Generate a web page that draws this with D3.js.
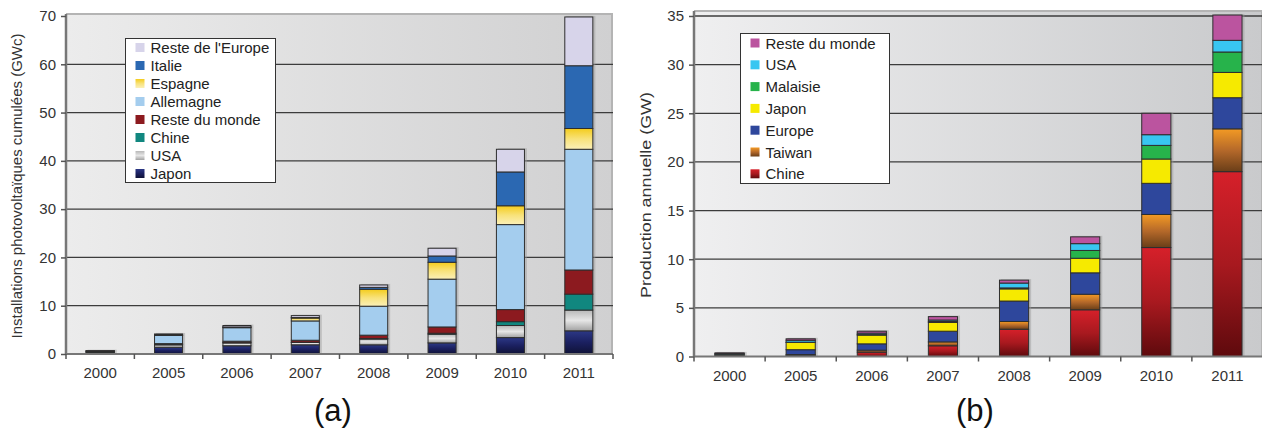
<!DOCTYPE html>
<html>
<head>
<meta charset="utf-8">
<script src="https://cdn.jsdelivr.net/npm/d3@7"></script>
<style>
  body { margin: 0; background: #fff; }
  svg { font-family: "Liberation Sans", Arial, sans-serif; }
</style>
</head>
<body>
<svg id="fig" width="1262" height="436"></svg>
<script>
// years shared by both panels
const years = ["2000", "2005", "2006", "2007", "2008", "2009", "2010", "2011"];

// (a) cumulated installations, GWc (bottom -> top of the stack)
const seriesA = ["Japon", "USA", "Chine", "Reste du monde", "Allemagne", "Espagne", "Italie", "Reste de l'Europe"];
const japonA     = [0.30, 1.4, 1.7, 1.9, 1.9, 2.3, 3.4, 4.8];
const usaA       = [0.10, 0.5, 0.6, 0.5, 1.2, 1.8, 2.5, 4.3];
const chineA     = [0.02, 0.05, 0.05, 0.05, 0.1, 0.2, 0.8, 3.3];
const rdmA       = [0.10, 0.2, 0.3, 0.4, 0.7, 1.3, 2.5, 5.0];
const allemagneA = [0.10, 1.7, 2.8, 4.0, 6.0, 9.9, 17.6, 25.0];
const espagneA   = [0.01, 0.05, 0.1, 0.6, 3.5, 3.5, 3.9, 4.3];
const italieA    = [0.01, 0.05, 0.05, 0.1, 0.4, 1.3, 7.0, 13.0];
const rdeA       = [0.05, 0.2, 0.3, 0.4, 0.5, 1.6, 4.7, 10.1];
const ticksA = [0, 10, 20, 30, 40, 50, 60, 70];

// (b) annual production, GW (bottom -> top of the stack)
const seriesB = ["Chine", "Taiwan", "Europe", "Japon", "Malaisie", "USA", "Reste du monde"];
const chineB    = [0.02, 0.1, 0.45, 1.1, 2.8, 4.8, 11.2, 19.0];
const taiwanB   = [0.01, 0.1, 0.2, 0.4, 0.8, 1.6, 3.4, 4.4];
const europeB   = [0.07, 0.5, 0.65, 1.1, 2.1, 2.2, 3.2, 3.2];
const japonB    = [0.13, 0.75, 0.9, 0.9, 1.25, 1.5, 2.5, 2.6];
const malaisieB = [0.01, 0.02, 0.05, 0.1, 0.1, 0.8, 1.4, 2.1];
const usaB      = [0.08, 0.2, 0.15, 0.15, 0.5, 0.7, 1.1, 1.2];
const rdmB      = [0.05, 0.15, 0.2, 0.35, 0.3, 0.7, 2.2, 2.6];
const ticksB = [0, 5, 10, 15, 20, 25, 30, 35];

const svg = d3.select("#fig");
const defs = svg.append("defs");

// vertical gradient helper, stops from top to bottom
function vGrad(id, stops) {
  const g = defs.append("linearGradient").attr("id", id)
    .attr("x1", 0).attr("y1", 0).attr("x2", 0).attr("y2", 1);
  stops.forEach((c, i) => g.append("stop")
    .attr("offset", i / (stops.length - 1)).attr("stop-color", c));
  return "url(#" + id + ")";
}
function hGrad(id, c0, c1) {
  const g = defs.append("linearGradient").attr("id", id)
    .attr("x1", 0).attr("y1", 0).attr("x2", 1).attr("y2", 0);
  g.append("stop").attr("offset", 0).attr("stop-color", c0);
  g.append("stop").attr("offset", 1).attr("stop-color", c1);
  return "url(#" + id + ")";
}

const colorsA = [
  vGrad("gJap", ["#2c3886", "#1b2060", "#0f1236"]),
  vGrad("gUsa", ["#b8b8b8", "#e6e6e6", "#a2a2a2"]),
  "#11877f",
  "#8c1a1f",
  "#a4cdee",
  vGrad("gEsp", ["#f4cc1c", "#f8e27a", "#fbf0b8"]),
  "#2b68b2",
  "#d7d4ea"
];
const colorsB = [
  vGrad("gChi", ["#d6202a", "#a8191f", "#5e0a0d"]),
  vGrad("gTai", ["#f39a24", "#b5692a", "#6a3e18"]),
  "#2e479c",
  "#f6ea00",
  "#27b34b",
  "#38c6f1",
  "#bb549f"
];

function drawPanel(o) {
  const g = svg.append("g");
  const x = d3.scaleBand().domain(years).range([o.x0, o.x1]).paddingInner(0.59).paddingOuter(0.295);
  const xb = d3.scaleBand().domain(years).range([o.x0, o.x1]);
  const y = d3.scaleLinear().domain([0, o.max]).range([o.yBase, o.yTop]);

  // plot background
  g.append("rect").attr("x", o.x0).attr("y", o.frameTop)
    .attr("width", o.x1 - o.x0).attr("height", o.yBase - o.frameTop)
    .attr("fill", hGrad(o.id + "bg", o.bg0, o.bg1));
  g.append("line").attr("x1", o.x0).attr("x2", o.x1)
    .attr("y1", o.frameTop).attr("y2", o.frameTop)
    .attr("stroke", "#b4b4b4").attr("stroke-width", 2);
  g.append("line").attr("x1", o.x1 - 1).attr("x2", o.x1 - 1)
    .attr("y1", o.frameTop).attr("y2", o.yBase)
    .attr("stroke", "#b4b4b4").attr("stroke-width", 2);

  // grid
  g.selectAll(".grid").data(o.ticks.filter(t => t > 0 && y(t) > o.frameTop + 2)).enter()
    .append("line")
    .attr("x1", o.x0).attr("x2", o.x1)
    .attr("y1", d => y(d)).attr("y2", d => y(d))
    .attr("stroke", "#3c3c3c").attr("stroke-width", 1.3);

  // stacked bars
  const table = years.map((yr, i) => {
    const row = { year: yr };
    o.keys.forEach((k, j) => row[k] = o.values[j][i]);
    return row;
  });
  const stacked = d3.stack().keys(o.keys)(table);

  // faint shadow behind the bars
  g.append("g").selectAll("rect").data(table).enter().append("rect")
    .attr("x", d => x(d.year) + 1.5)
    .attr("y", d => y(d3.sum(o.keys, k => d[k])) - 1)
    .attr("width", x.bandwidth() + 1)
    .attr("height", d => o.yBase - y(d3.sum(o.keys, k => d[k])) + 1)
    .attr("fill", "#999").attr("opacity", 0.45);

  const layers = g.selectAll(".layer").data(stacked).enter().append("g")
    .attr("class", "layer")
    .attr("fill", (d, i) => o.colors[i]);
  layers.selectAll("rect").data(d => d).enter().append("rect")
    .attr("x", d => x(d.data.year))
    .attr("y", d => y(d[1]))
    .attr("width", x.bandwidth())
    .attr("height", d => y(d[0]) - y(d[1]))
    .attr("stroke", "#2e2e2e").attr("stroke-width", 1);

  // y axis
  const ya = g.append("g").attr("transform", `translate(${o.x0},0)`)
    .call(d3.axisLeft(y).tickValues(o.ticks).tickSize(5).tickPadding(5));
  ya.select(".domain").attr("stroke", "#777").attr("stroke-width", 2.5)
    .attr("d", `M0,${o.yBase}V${o.frameTop}`);
  ya.selectAll(".tick line").attr("stroke", "#555").attr("stroke-width", 1.5);
  ya.selectAll("text").attr("font-size", 15).attr("fill", "#333")
    .attr("font-family", "Liberation Sans, Arial, sans-serif");

  // x axis: ticks between bands
  g.append("line").attr("x1", o.x0).attr("x2", o.x1)
    .attr("y1", o.yBase).attr("y2", o.yBase)
    .attr("stroke", "#777").attr("stroke-width", 2);
  g.selectAll(".xt").data(years.concat(["end"])).enter().append("line")
    .attr("x1", (d, i) => o.x0 + i * xb.step()).attr("x2", (d, i) => o.x0 + i * xb.step())
    .attr("y1", o.yBase).attr("y2", o.yBase + 5)
    .attr("stroke", "#555").attr("stroke-width", 1.5);
  g.selectAll(".xl").data(years).enter().append("text")
    .attr("x", d => xb(d) + xb.bandwidth() / 2)
    .attr("y", o.yBase + 24)
    .attr("text-anchor", "middle").attr("font-size", 15).attr("fill", "#333")
    .text(d => d);

  // y title
  g.append("text")
    .attr("transform", `translate(${o.titleX},${o.titleY}) rotate(-90)`)
    .attr("text-anchor", "middle").attr("font-size", 15).attr("fill", "#333")
    .attr("textLength", o.titleLen).attr("lengthAdjust", "spacingAndGlyphs")
    .text(o.title);

  // legend
  const lg = g.append("g");
  lg.append("rect").attr("x", o.lx).attr("y", o.ly).attr("width", o.lw).attr("height", o.lh)
    .attr("fill", "#fff").attr("stroke", "#333").attr("stroke-width", 1);
  const items = o.keys.map((k, i) => ({ k, c: o.colors[i] })).reverse();
  items.forEach((it, i) => {
    const cy = o.ly + o.lpad + i * o.lstep;
    lg.append("rect").attr("x", o.lx + 10).attr("y", cy - 4.5).attr("width", 9).attr("height", 9)
      .attr("fill", it.c);
    lg.append("text").attr("x", o.lx + 25).attr("y", cy + 5.5)
      .attr("font-size", 15).attr("fill", "#222").text(it.k);
  });

  // panel label
  svg.append("text").attr("x", o.labX).attr("y", 421)
    .attr("text-anchor", "middle").attr("font-size", 31).attr("fill", "#111")
    .text(o.label);
}

drawPanel({
  id: "a", x0: 66, x1: 613, yBase: 354, yTop: 16, frameTop: 14, max: 70,
  ticks: ticksA, keys: seriesA, colors: colorsA,
  values: [japonA, usaA, chineA, rdmA, allemagneA, espagneA, italieA, rdeA],
  bg0: "#ececec", bg1: "#d0d0d1",
  title: "Installations photovoltaïques cumulées (GWc)", titleX: 22, titleY: 186, titleLen: 305,
  lx: 125.5, ly: 38.5, lw: 150, lh: 144, lpad: 9, lstep: 18,
  label: "(a)", labX: 333
});
drawPanel({
  id: "b", x0: 694, x1: 1263, yBase: 356.5, yTop: 16, frameTop: 11, max: 35,
  ticks: ticksB, keys: seriesB, colors: colorsB,
  values: [chineB, taiwanB, europeB, japonB, malaisieB, usaB, rdmB],
  bg0: "#efeff0", bg1: "#c9cacc",
  title: "Production annuelle (GW)", titleX: 651, titleY: 195, titleLen: 206,
  lx: 740.5, ly: 33.5, lw: 149, lh: 150, lpad: 9.5, lstep: 21.8,
  label: "(b)", labX: 975
});
</script>
</body>
</html>
